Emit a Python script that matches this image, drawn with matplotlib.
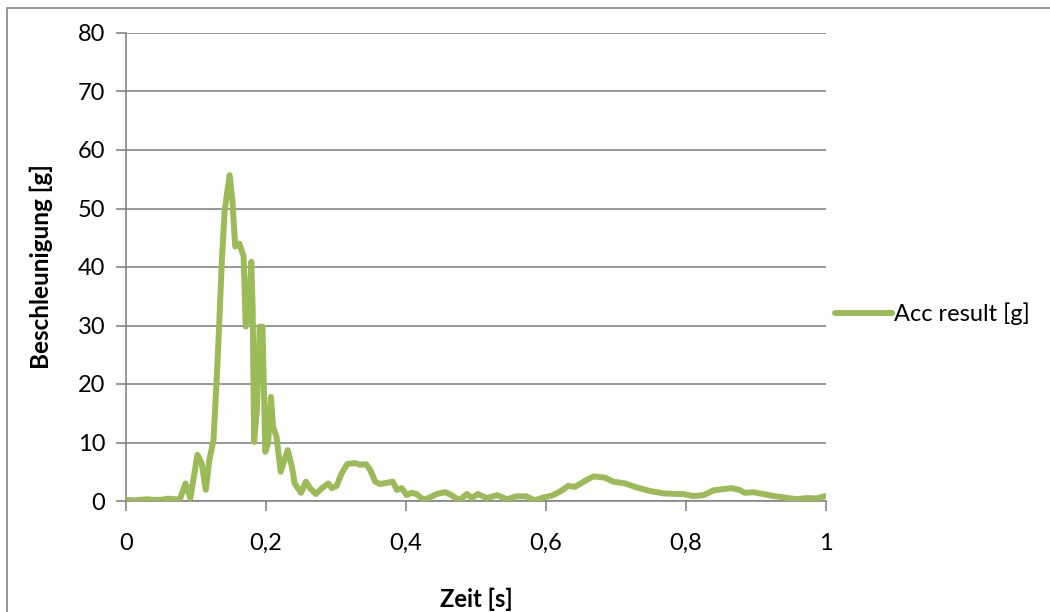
import matplotlib
matplotlib.use("Agg")
import matplotlib.pyplot as plt
from matplotlib.patches import Rectangle
from matplotlib.ticker import FuncFormatter

plt.rcParams['font.family'] = ['Lato', 'DejaVu Sans']

# data
time_s = [0.000, 0.010, 0.020, 0.030, 0.040, 0.050, 0.060, 0.070, 0.077, 0.085,
          0.092, 0.102, 0.108, 0.114, 0.119, 0.125, 0.130, 0.133, 0.137, 0.141,
          0.148, 0.152, 0.156, 0.162, 0.168, 0.171, 0.175, 0.179, 0.181, 0.183,
          0.187, 0.191, 0.195, 0.199, 0.203, 0.207, 0.210, 0.215, 0.221, 0.225,
          0.231, 0.237, 0.241, 0.250, 0.257, 0.263, 0.271, 0.280, 0.289, 0.294,
          0.301, 0.308, 0.316, 0.327, 0.334, 0.343, 0.349, 0.356, 0.363, 0.372,
          0.381, 0.387, 0.394, 0.401, 0.408, 0.415, 0.425, 0.434, 0.444, 0.456,
          0.465, 0.476, 0.487, 0.494, 0.503, 0.515, 0.530, 0.544, 0.558, 0.572,
          0.584, 0.596, 0.608, 0.620, 0.632, 0.641, 0.651, 0.658, 0.668, 0.684,
          0.696, 0.713, 0.730, 0.749, 0.768, 0.788, 0.796, 0.810, 0.825, 0.839,
          0.851, 0.865, 0.876, 0.884, 0.896, 0.910, 0.925, 0.941, 0.958, 0.972,
          0.987, 0.999]
acc_g = [0.2, 0.1, 0.2, 0.3, 0.2, 0.2, 0.4, 0.3, 0.3, 3.0,
         0.5, 7.9, 6.5, 1.9, 7.0, 10.4, 21.9, 29.8, 41.2, 49.7,
         55.7, 51.4, 43.5, 44.0, 41.8, 29.8, 31.5, 40.9, 32.6, 10.1,
         15.6, 29.8, 29.8, 8.4, 9.9, 17.8, 12.7, 11.0, 5.0, 6.5,
         8.7, 5.9, 3.0, 1.4, 3.3, 2.2, 1.2, 2.2, 3.0, 2.2,
         2.6, 4.7, 6.3, 6.5, 6.2, 6.3, 5.3, 3.3, 2.9, 3.1,
         3.3, 1.9, 2.2, 1.0, 1.4, 1.2, 0.2, 0.6, 1.2, 1.5,
         1.0, 0.1, 1.2, 0.5, 1.2, 0.5, 1.0, 0.3, 0.8, 0.8,
         0.1, 0.6, 0.9, 1.6, 2.6, 2.4, 3.1, 3.6, 4.2, 4.0,
         3.3, 3.0, 2.3, 1.7, 1.3, 1.2, 1.2, 0.85, 1.0, 1.8,
         2.0, 2.2, 1.9, 1.4, 1.5, 1.2, 0.85, 0.6, 0.3, 0.5,
         0.45, 0.85]
x_ticks = [0, 0.2, 0.4, 0.6, 0.8, 1.0]
y_ticks = [0, 10, 20, 30, 40, 50, 60, 70, 80]
series_label = "Acc result [g]"
x_label = "Zeit [s]"
y_label = "Beschleunigung [g]"

W, H = 1050, 612
fig = plt.figure(figsize=(W / 100, H / 100), dpi=100)

# outer chart frame
fig.patches.append(Rectangle((7 / W, -0.1), 1.2, 1 - 8 / H + 0.1,
                             transform=fig.transFigure, fill=False,
                             edgecolor='#868686', linewidth=1.2, zorder=0))

ax = fig.add_axes([126 / W, 1 - 501 / H, 700 / W, 468 / H])
ax.plot(time_s, acc_g, color='#9BBB59', linewidth=4.3, solid_joinstyle='round',
        solid_capstyle='round', label=series_label, zorder=3)

ax.set_xlim(0, 1)
ax.set_ylim(0, 80)
ax.set_xticks(x_ticks)
ax.set_yticks(y_ticks)

def comma_fmt(v, pos):
    if abs(v - round(v)) < 1e-9:
        return str(int(round(v)))
    return ("%g" % v).replace('.', ',')

ax.xaxis.set_major_formatter(FuncFormatter(comma_fmt))
ax.yaxis.grid(True, color='#868686', linewidth=1.2)
ax.set_axisbelow(True)
for s in ['top', 'right']:
    ax.spines[s].set_visible(False)
for s in ['left', 'bottom']:
    ax.spines[s].set_color('#868686')
    ax.spines[s].set_linewidth(1.2)
ax.tick_params(axis='both', direction='out', length=7, width=1.2, color='#868686',
               labelsize=17, labelcolor='black')
ax.tick_params(axis='x', pad=16)
ax.tick_params(axis='y', pad=8)

ax.set_xlabel(x_label, fontsize=17, fontweight='bold', labelpad=24)
ax.set_ylabel(y_label, fontsize=17.5, fontweight='bold', labelpad=18)

ax.legend(loc='center left', bbox_to_anchor=(1.0, 0.40), frameon=False,
          fontsize=17, handlelength=2.4, handletextpad=0.1, borderaxespad=0.0)

fig.savefig("out.png", dpi=100)
